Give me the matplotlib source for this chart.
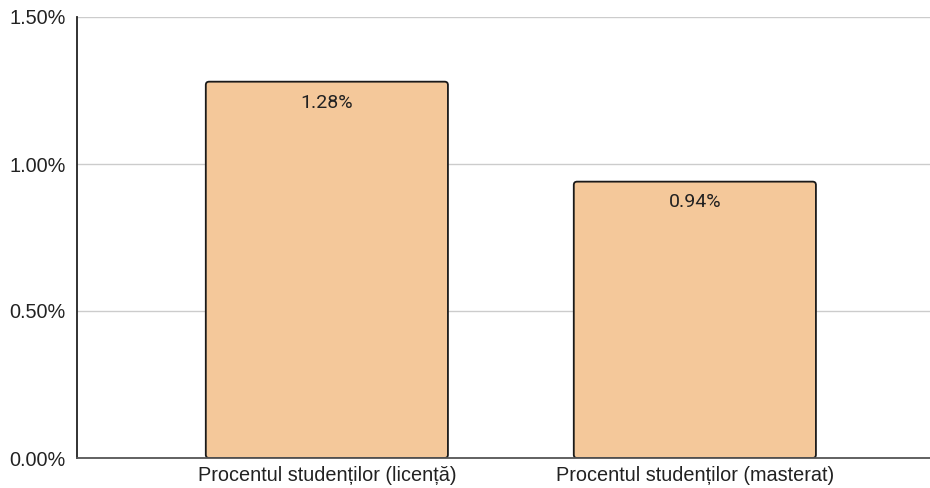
import matplotlib
matplotlib.use("Agg")
import matplotlib.pyplot as plt
from matplotlib.patches import FancyBboxPatch
from matplotlib.ticker import FuncFormatter, MultipleLocator

categories = ["Procentul studenților (licență)", "Procentul studenților (masterat)"]
values = [1.28, 0.94]  # percent
labels = ["1.28%", "0.94%"]

plt.rcParams['font.family'] = ['Liberation Sans', 'DejaVu Sans']

fig = plt.figure(figsize=(9.3, 4.88), dpi=100)
ax = fig.add_axes([77 / 930, 1 - 458 / 488, 853 / 930, 441 / 488])

bar_w = 0.658
bars = ax.bar(range(len(values)), values, width=bar_w, color="none", edgecolor="none")
for b, lab in zip(bars, labels):
    x0, y0 = b.get_x(), b.get_y()
    w, h = b.get_width(), b.get_height()
    p = FancyBboxPatch((x0, y0), w, h, boxstyle="round,pad=0,rounding_size=0.009",
                       mutation_aspect=1.25, facecolor="#F4C89A", edgecolor="#1a1a1a",
                       linewidth=1.3, zorder=3)
    ax.add_patch(p)
    ax.annotate(lab, (x0 + w / 2, h), xytext=(0, -15), textcoords="offset points",
                ha="center", va="center", fontsize=14, color="#222222",
                family=["Roboto", "DejaVu Sans"], zorder=4)

ax.set_xlim(-0.679, 1.639)
ax.set_ylim(0, 1.5)
ax.yaxis.set_major_locator(MultipleLocator(0.5))
ax.yaxis.set_major_formatter(FuncFormatter(lambda v, p: "%.2f%%" % v))
ax.set_xticks(range(len(values)))
ax.set_xticklabels(categories)
ax.tick_params(axis="both", length=0, labelsize=14.3, colors="#222222")
ax.tick_params(axis="x", pad=6)
ax.tick_params(axis="y", pad=8)

ax.grid(axis="y", color="#cccccc", linewidth=1)
ax.set_axisbelow(True)
for s in ["top", "right"]:
    ax.spines[s].set_visible(False)
ax.spines["left"].set_color("#222222")
ax.spines["left"].set_linewidth(1.3)
ax.spines["bottom"].set_color("#555555")
ax.spines["bottom"].set_linewidth(1.3)
ax.spines["bottom"].set_zorder(5)

fig.savefig("out.png", dpi=100)
